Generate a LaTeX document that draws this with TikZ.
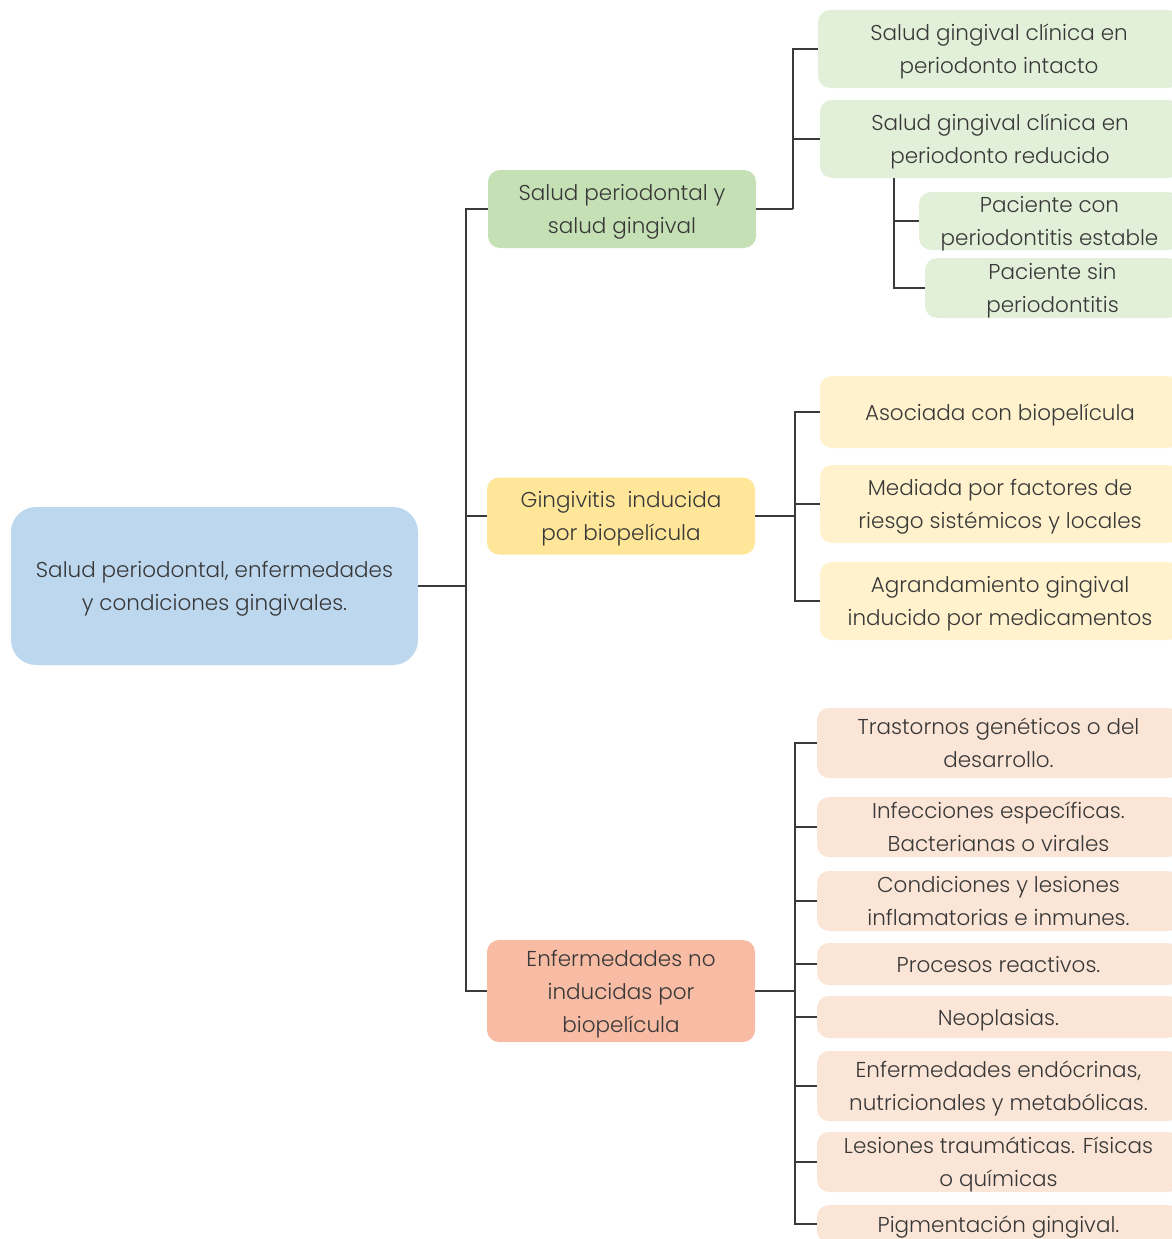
\documentclass[tikz,border=0pt]{standalone}
\usepackage{fontspec}
\setmainfont{Poppins}[UprightFont=* Light]
\definecolor{txt}{HTML}{383838}
\definecolor{rootc}{HTML}{BDD7EE}
\definecolor{gmid}{HTML}{C5E0B4}
\definecolor{ymid}{HTML}{FFE699}
\definecolor{smid}{HTML}{F8BCA4}
\definecolor{glt}{HTML}{E2F0D9}
\definecolor{ylt}{HTML}{FFF2CC}
\definecolor{slt}{HTML}{FBE5D6}
\definecolor{linec}{HTML}{3A3A3A}
\begin{document}
\begin{tikzpicture}[x=1pt,y=-1pt,
  box/.style={rounded corners=12pt, inner sep=0pt, align=center, text=txt,
    text depth=0pt, font=\fontsize{21.5}{33}\selectfont},
  conn/.style={draw=linec, line width=1.3pt}]
\useasboundingbox (0,0) rectangle (1172,1239);
% root
\node[box, rounded corners=25pt, fill=rootc, minimum width=407, minimum height=158] (root) at (214.5,586)
  {Salud periodontal, enfermedades\\y condiciones gingivales.};
% level 1
\node[box, fill=gmid, minimum width=268, minimum height=78] (gL1) at (622,209) {Salud periodontal y\\salud gingival};
\node[box, fill=ymid, minimum width=268, minimum height=77] (yL1) at (621,516) {Gingivitis \ inducida\\por biopelícula};
\node[box, fill=smid, minimum width=268, minimum height=102] (sL1) at (621,991) {Enfermedades no\\inducidas por\\biopelícula};
% green children
\node[box, fill=glt, minimum width=362, minimum height=78] (g1) at (999,49) {Salud gingival clínica en\\periodonto intacto};
\node[box, fill=glt, minimum width=360, minimum height=78] (g2) at (1000,139) {Salud gingival clínica en\\periodonto reducido};
\node[box, fill=glt, minimum width=261, minimum height=58] (g3) at (1049.5,221) {Paciente con\\periodontitis estable};
\node[box, fill=glt, minimum width=255, minimum height=60] (g4) at (1052.5,288) {Paciente sin\\periodontitis};
% yellow children
\node[box, fill=ylt, minimum width=360, minimum height=72] (y1) at (1000,412) {Asociada con biopelícula};
\node[box, fill=ylt, minimum width=360, minimum height=78] (y2) at (1000,504) {Mediada por factores de\\riesgo sistémicos y locales};
\node[box, fill=ylt, minimum width=360, minimum height=78] (y3) at (1000,601) {Agrandamiento gingival\\inducido por medicamentos};
% salmon children
\node[box, fill=slt, minimum width=363, minimum height=70] (s1) at (998.5,743) {Trastornos genéticos o del\\desarrollo.};
\node[box, fill=slt, minimum width=363, minimum height=60] (s2) at (998.5,827) {Infecciones específicas.\\Bacterianas o virales};
\node[box, fill=slt, minimum width=363, minimum height=60] (s3) at (998.5,901) {Condiciones y lesiones\\inflamatorias e inmunes.};
\node[box, fill=slt, minimum width=363, minimum height=42] (s4) at (998.5,964) {Procesos reactivos.};
\node[box, fill=slt, minimum width=363, minimum height=42] (s5) at (998.5,1017) {Neoplasias.};
\node[box, fill=slt, minimum width=363, minimum height=70] (s6) at (998.5,1086) {Enfermedades endócrinas,\\nutricionales y metabólicas.};
\node[box, fill=slt, minimum width=363, minimum height=60] (s7) at (998.5,1162) {Lesiones traumáticas. Físicas\\o químicas};
\node[box, fill=slt, minimum width=363, minimum height=38] (s8) at (998.5,1224) {Pigmentación gingival.};
% junctions
\coordinate (j1) at (466,586);
\coordinate (j2) at (793,209);
\coordinate (j3) at (894,178);
\coordinate (j4) at (795,516);
\coordinate (j5) at (795,991);
% connectors root
\draw[conn] (root.east) -- (j1);
\draw[conn] (gL1.west) -- (gL1.west -| j1) -- (sL1.west -| j1) -- (sL1.west);
\draw[conn] (yL1.west) -- (yL1.west -| j1);
% green
\draw[conn] (gL1.east) -- (j2);
\draw[conn] (g1.west) -- (g1.west -| j2) -- (j2);
\draw[conn] (g2.west) -- (g2.west -| j2);
\draw[conn] (j3) |- (g4.west);
\draw[conn] (g3.west -| j3) -- (g3.west);
% yellow
\draw[conn] (yL1.east) -- (j4);
\draw[conn] (y1.west) -- (y1.west -| j4) -- (y3.west -| j4) -- (y3.west);
\draw[conn] (y2.west) -- (y2.west -| j4);
% salmon
\draw[conn] (sL1.east) -- (j5);
\draw[conn] (s1.west) -- (s1.west -| j5) -- (s8.west -| j5) -- (s8.west);
\foreach \n in {s2,s3,s4,s5,s6,s7} {\draw[conn] (\n.west) -- (\n.west -| j5);}
\end{tikzpicture}
\end{document}
